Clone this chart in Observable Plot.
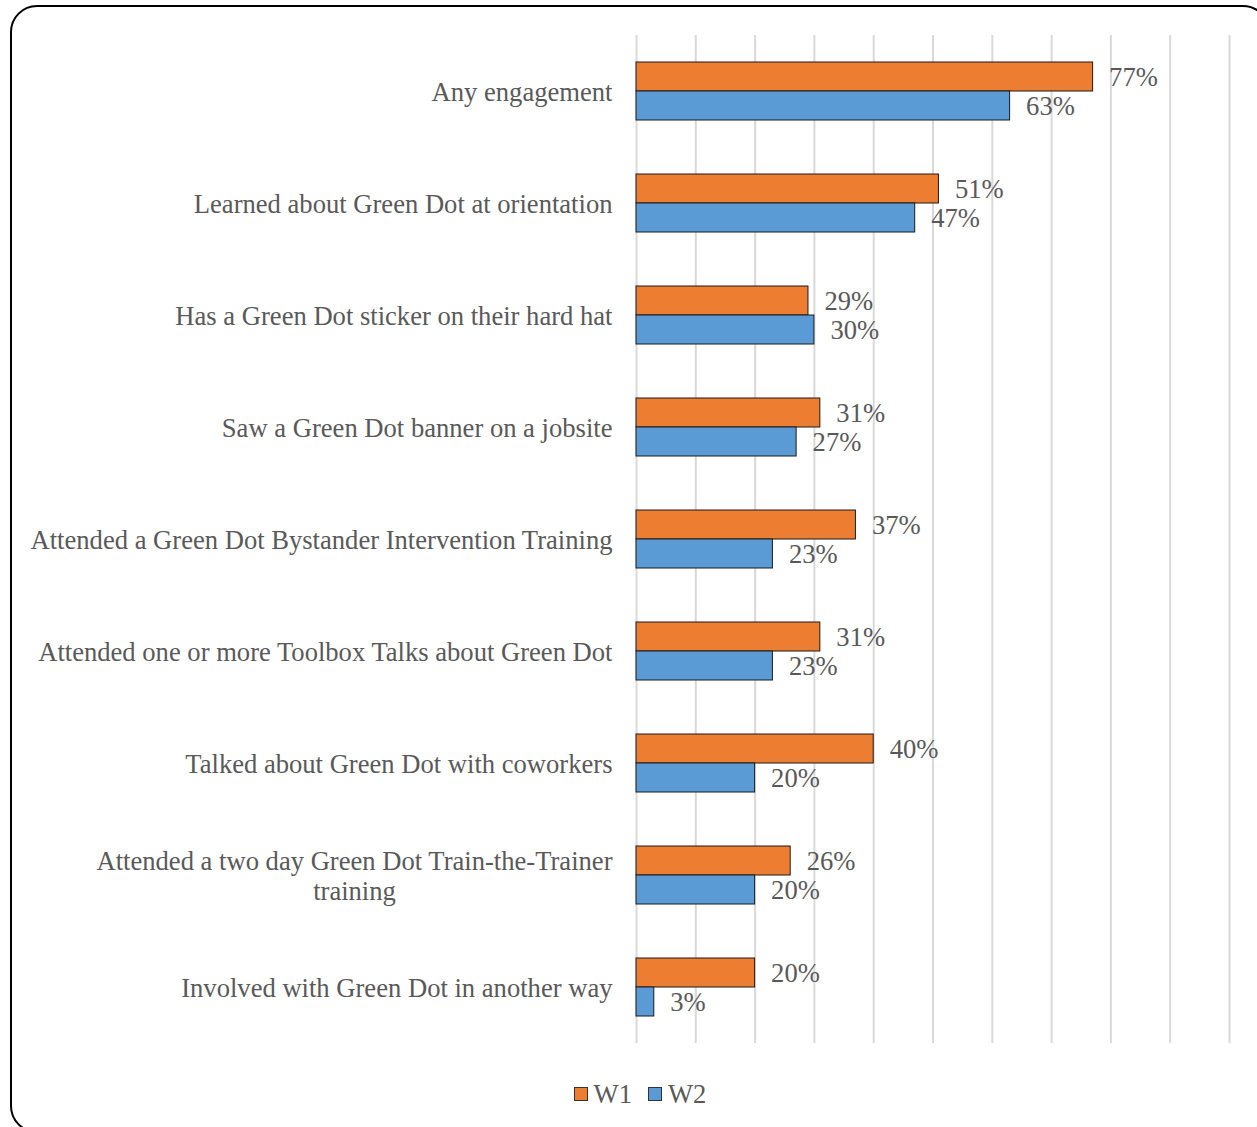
<!DOCTYPE html>
<html>
<head>
<meta charset="utf-8">
<script src="https://cdn.jsdelivr.net/npm/d3@7"></script>
<script src="https://cdn.jsdelivr.net/npm/@observablehq/plot@0.6"></script>
<style>
  html, body { margin: 0; padding: 0; background: #fff; overflow: hidden; }
  #page { position: relative; width: 1257px; height: 1127px; }
  #frame { position: absolute; left: 10px; top: 5px; width: 1260px; height: 1128px;
           border: 2px solid #000; border-radius: 27px; box-sizing: border-box; }
  #chart { position: absolute; left: 0; top: 0; }
  #legend { position: absolute; left: 0; width: 1280px; top: 1077px; text-align: center;
            font-family: "Liberation Serif", "Times New Roman", serif; font-size: 26.6px; color: #595959; }
  #legend span.item { display: inline-flex; align-items: center; margin: 0 8px; }
  #legend span.sw { display: inline-block; width: 12px; height: 12px; border: 1px solid #333; margin-right: 6px; }
</style>
</head>
<body>
<div id="page">
  <div id="frame"></div>
  <div id="chart"></div>
  <div id="legend"></div>
</div>
<script>
const categories = [
  "Any engagement",
  "Learned about Green Dot at orientation",
  "Has a Green Dot sticker on their hard hat",
  "Saw a Green Dot banner on a jobsite",
  "Attended a Green Dot Bystander Intervention Training",
  "Attended one or more Toolbox Talks about Green Dot",
  "Talked about Green Dot with coworkers",
  "Attended a two day Green Dot Train-the-Trainer\ntraining",
  "Involved with Green Dot in another way"
];
const w1 = [0.77, 0.51, 0.29, 0.31, 0.37, 0.31, 0.40, 0.26, 0.20];
const w2 = [0.63, 0.47, 0.30, 0.27, 0.23, 0.23, 0.20, 0.20, 0.03];
const seriesNames = ["W1", "W2"];
const seriesColors = ["#ED7D31", "#5B9BD5"];
const gridTicks = [0, 0.1, 0.2, 0.3, 0.4, 0.5, 0.6, 0.7, 0.8, 0.9, 1.0];

const d1 = categories.map((c, i) => ({category: c, value: w1[i], series: seriesNames[0]}));
const d2 = categories.map((c, i) => ({category: c, value: w2[i], series: seriesNames[1]}));

const fmt = d => Math.round(d.value * 100) + "%";
const font = "'Liberation Serif', 'Times New Roman', serif";

const chart = Plot.plot({
  width: 1257,
  height: 1060,
  marginLeft: 636,
  marginRight: 28,
  marginTop: 35,
  marginBottom: 17,
  style: {fontFamily: font, fontSize: "26.6px", color: "#595959", background: "transparent"},
  x: {domain: [0, 1], axis: null},
  y: {domain: categories, paddingInner: 0.482, paddingOuter: 0.241, axis: null},
  marks: [
    Plot.ruleX(gridTicks, {stroke: "#d9d9d9", strokeWidth: 2}),
    Plot.barX(d1, {y: "category", x: "value", fill: seriesColors[0], stroke: "#1a1a1a", strokeWidth: 1, insetBottom: 29}),
    Plot.barX(d2, {y: "category", x: "value", fill: seriesColors[1], stroke: "#1a1a1a", strokeWidth: 1, insetTop: 29}),
    Plot.text(d1, {y: "category", x: "value", text: fmt, dx: 16, dy: -14.5, textAnchor: "start", fill: "#595959", fontSize: 26.6}),
    Plot.text(d2, {y: "category", x: "value", text: fmt, dx: 16, dy: 14.5, textAnchor: "start", fill: "#595959", fontSize: 26.6}),
    Plot.axisY({tickSize: 0, tickPadding: 24, fontSize: 26.6, lineHeight: 1.13, fill: "#595959", label: null})
  ]
});
document.getElementById("chart").appendChild(chart);

// center the lines of multi-line category labels relative to each other
chart.querySelectorAll("text").forEach(t => {
  const spans = t.querySelectorAll("tspan");
  if (spans.length > 1) {
    let w = 0;
    spans.forEach(s => { w = Math.max(w, s.getComputedTextLength()); });
    t.setAttribute("text-anchor", "middle");
    spans.forEach(s => s.setAttribute("x", -w / 2));
  }
});

const legend = document.getElementById("legend");
seriesNames.forEach((n, i) => {
  const item = document.createElement("span");
  item.className = "item";
  const sw = document.createElement("span");
  sw.className = "sw";
  sw.style.background = seriesColors[i];
  item.appendChild(sw);
  item.appendChild(document.createTextNode(n));
  legend.appendChild(item);
});
</script>
</body>
</html>
